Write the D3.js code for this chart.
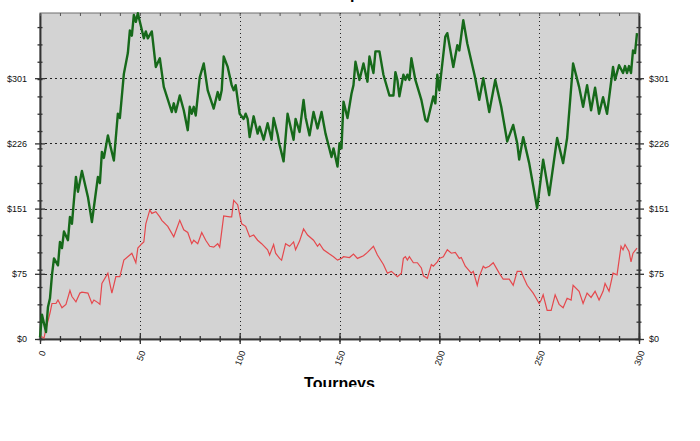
<!DOCTYPE html>
<html>
<head>
<meta charset="utf-8">
<script src="https://cdn.jsdelivr.net/npm/d3@7"></script>
<style>
  body { margin: 0; background: #fff; }
  text { font-family: "Liberation Sans", Arial, sans-serif; }
</style>
</head>
<body>
<div id="chart"></div>
<script>
// tourney -> cumulative $
const greenSeries = [[0,2],[1,28],[3,8],[4,37],[5,47],[6,74],[7,93],[9,85],[10,112],[11,105],[12,124],[14,114],[15,141],[16,133],[18,187],[19,170],[21,194],[24,164],[26,135],[29,187],[30,180],[31,216],[32,209],[34,235],[35,225],[37,206],[39,260],[40,255],[42,306],[44,330],[45,356],[46,350],[47,374],[48,366],[49,376],[52,347],[53,355],[54,347],[56,355],[58,314],[60,324],[62,291],[66,262],[67,272],[68,262],[70,281],[72,264],[74,241],[75,268],[76,260],[77,268],[78,258],[80,302],[82,318],[84,287],[87,266],[89,285],[90,276],[91,287],[92,326],[94,314],[96,293],[97,287],[98,293],[100,260],[102,254],[103,260],[104,254],[105,233],[107,257],[109,237],[110,245],[112,230],[114,249],[116,230],[117,255],[119,236],[120,224],[122,205],[124,260],[127,230],[128,254],[130,239],[132,276],[133,256],[135,235],[137,262],[139,243],[141,262],[143,237],[146,210],[147,220],[149,199],[150,226],[151,220],[152,274],[154,255],[156,283],[157,293],[158,320],[160,299],[162,318],[164,297],[165,326],[167,307],[168,332],[170,332],[172,305],[175,281],[177,281],[178,308],[179,299],[180,280],[182,305],[183,299],[184,305],[185,299],[186,324],[188,299],[191,276],[193,253],[194,251],[197,280],[198,272],[199,305],[200,287],[203,349],[204,353],[207,314],[209,339],[210,333],[212,368],[214,341],[218,301],[220,276],[222,301],[225,262],[228,299],[231,268],[234,228],[237,247],[239,226],[240,207],[242,233],[245,203],[249,151],[252,207],[255,166],[259,232],[262,203],[264,232],[267,318],[270,291],[272,268],[274,293],[276,264],[278,290],[280,260],[282,279],[284,260],[287,314],[288,299],[290,316],[292,307],[293,315],[294,307],[295,315],[296,307],[297,333],[298,330],[299,353]];

const redSeries = [[0,4],[2,1],[3,12],[5,30],[6,41],[8,41],[9,45],[11,36],[13,40],[15,56],[16,49],[18,43],[20,53],[21,54],[24,53],[26,41],[27,45],[29,42],[30,40],[31,64],[34,76],[35,64],[36,53],[38,72],[40,72],[42,91],[45,97],[46,99],[48,88],[49,105],[51,110],[52,112],[53,133],[55,149],[56,145],[58,147],[60,141],[61,137],[64,130],[67,118],[70,137],[72,126],[74,123],[76,110],[77,114],[79,110],[81,123],[83,114],[85,107],[87,106],[89,110],[90,106],[92,142],[95,141],[96,141],[97,160],[99,155],[101,133],[103,130],[105,118],[107,120],[109,114],[111,110],[114,103],[115,97],[117,109],[118,99],[120,93],[121,91],[123,110],[125,107],[127,112],[128,103],[130,113],[132,127],[134,120],[137,114],[139,107],[140,110],[142,103],[145,98],[147,95],[149,91],[151,93],[152,95],[155,94],[157,98],[159,93],[162,96],[164,100],[167,107],[169,97],[172,86],[174,76],[176,78],[177,76],[179,72],[181,76],[182,93],[183,95],[184,91],[185,95],[187,88],[189,88],[191,82],[192,73],[194,70],[196,86],[197,84],[199,89],[200,93],[202,95],[204,103],[206,99],[208,100],[210,93],[211,94],[213,84],[216,76],[217,78],[219,62],[220,72],[222,84],[223,82],[225,84],[227,88],[230,76],[232,69],[235,69],[237,62],[239,78],[241,78],[242,72],[244,62],[247,53],[248,49],[250,41],[251,45],[252,51],[254,33],[256,33],[258,51],[260,40],[262,36],[264,47],[266,45],[267,62],[270,55],[272,41],[274,53],[276,48],[278,55],[280,45],[282,55],[283,64],[285,55],[287,76],[289,74],[291,107],[292,103],[293,109],[295,101],[296,89],[297,99],[299,105]];

// axis ticks
const xTicks = [0, 50, 100, 150, 200, 250, 300];
const xMinorStep = 10;
const yTicks = [0, 75.25, 150.5, 225.75, 301];
const yTickLabels = ["$0", "$75", "$151", "$226", "$301"];
const yMax = 376.25;
const yMinorStep = 20;
const xTitle = "Tourneys";
const chartTitle = "Cumulative profit";

const width = 700,
    height = 441,
    margin = ({ top: 13, right: 61, bottom: 102, left: 40 });

const svg = d3.select("#chart")
    .append("svg")
    .attr("width", width)
    .attr("height", height);

// the original picture is cut off below the axis title
svg.append("clipPath").attr("id", "cut")
    .append("rect").attr("x", 0).attr("y", 0).attr("width", width).attr("height", 387);

const root = svg.append("g").attr("clip-path", "url(#cut)");

let x = d3.scaleLinear()
    .domain([0, 300])
    .range([margin.left, width - margin.right]);

let y = d3.scaleLinear()
    .domain([0, yMax])
    .range([height - margin.bottom, margin.top]);

const x0 = x.range()[0], x1 = x.range()[1];
const yB = y.range()[0], yT = y.range()[1];

// plot background
root.append("rect")
    .attr("x", x0).attr("y", yT)
    .attr("width", x1 - x0).attr("height", yB - yT)
    .attr("fill", "#d3d3d3")
    .attr("stroke", "#6e6e6e");

// dotted grid
root.append("g")
    .selectAll("line")
    .data(yTicks.slice(1))
    .join("line")
    .attr("x1", x0).attr("x2", x1)
    .attr("y1", d => Math.round(y(d)) + 0.5).attr("y2", d => Math.round(y(d)) + 0.5)
    .attr("stroke", "#222")
    .attr("stroke-dasharray", "2,3");

root.append("g")
    .selectAll("line")
    .data(xTicks.slice(1, -1))
    .join("line")
    .attr("x1", d => Math.round(x(d)) + 0.5).attr("x2", d => Math.round(x(d)) + 0.5)
    .attr("y1", yT).attr("y2", yB)
    .attr("stroke", "#222")
    .attr("stroke-dasharray", "1,3");

const xMinor = d3.range(0, 301, xMinorStep);
const yMinor = d3.range(0, yMax, yMinorStep);

function styleAxis(g) {
    g.select(".domain").attr("stroke", "#333").attr("stroke-width", 1.5);
    g.selectAll(".tick line").attr("stroke", "#333").attr("stroke-width", 1.3);
    g.selectAll(".tick text").attr("font-size", 9).attr("fill", "#111");
}

// left axis
root.append("g")
    .attr("transform", `translate(${x0},0)`)
    .call(d3.axisLeft(y).tickValues(yMinor).tickSize(3).tickFormat("").tickSizeOuter(0))
    .call(styleAxis)
    .call(g => g.selectAll(".tick line").attr("x2", -2.5).attr("x1", 2.5));

root.append("g")
    .attr("transform", `translate(${x0},0)`)
    .call(d3.axisLeft(y).tickValues(yTicks).tickSize(5).tickPadding(8).tickSizeOuter(0)
        .tickFormat((d, i) => yTickLabels[i]))
    .call(styleAxis)
    .call(g => g.selectAll(".tick line").attr("x1", 5));

// right axis
root.append("g")
    .attr("transform", `translate(${x1},0)`)
    .call(d3.axisRight(y).tickValues(yMinor).tickSize(3).tickFormat("").tickSizeOuter(0))
    .call(styleAxis)
    .call(g => g.selectAll(".tick line").attr("x1", -2.5).attr("x2", 2.5));

root.append("g")
    .attr("transform", `translate(${x1},0)`)
    .call(d3.axisRight(y).tickValues(yTicks).tickSize(5).tickPadding(5).tickSizeOuter(0)
        .tickFormat((d, i) => yTickLabels[i]))
    .call(styleAxis)
    .call(g => g.selectAll(".tick line").attr("x1", -4));

// top ticks pointing into the plot
root.append("g")
    .attr("transform", `translate(0,${yT})`)
    .call(d3.axisBottom(x).tickValues(xMinor).tickSize(3).tickFormat("").tickSizeOuter(0))
    .call(g => g.select(".domain").remove())
    .call(g => g.selectAll(".tick line").attr("stroke", "#555"));

// bottom axis
root.append("g")
    .attr("transform", `translate(0,${yB})`)
    .call(d3.axisBottom(x).tickValues(xMinor).tickSize(3).tickFormat("").tickSizeOuter(0))
    .call(styleAxis)
    .call(g => g.selectAll(".tick line").attr("y1", -3));

root.append("g")
    .attr("transform", `translate(0,${yB})`)
    .call(d3.axisBottom(x).tickValues(xTicks).tickSize(5).tickFormat("").tickSizeOuter(0))
    .call(styleAxis)
    .call(g => g.selectAll(".tick line").attr("y1", -6));

// rotated x labels
root.append("g")
    .selectAll("text")
    .data(xTicks)
    .join("text")
    .attr("transform", d => `translate(${x(d) + 3},${yB + 12}) rotate(-70)`)
    .attr("text-anchor", "end")
    .attr("dy", "0.35em")
    .attr("font-size", 9)
    .attr("fill", "#111")
    .text(d => d);

// axis title and chart title (both cut off in the original)
root.append("text")
    .attr("x", (x0 + x1) / 2)
    .attr("y", 389)
    .attr("text-anchor", "middle")
    .attr("font-size", 16)
    .attr("font-weight", "bold")
    .text(xTitle);

root.append("text")
    .attr("x", 325)
    .attr("y", -1)
    .attr("text-anchor", "middle")
    .attr("font-size", 16)
    .attr("font-weight", "bold")
    .text(chartTitle);

// lines
let line = d3.line()
    .x(d => x(d[0]))
    .y(d => y(d[1]));

const plot = root.append("g");

plot.append("path")
    .datum(redSeries)
    .attr("d", line)
    .attr("fill", "none")
    .attr("stroke", "#e5484d")
    .attr("stroke-width", 1.2);

plot.append("path")
    .datum(greenSeries)
    .attr("d", line)
    .attr("fill", "none")
    .attr("stroke", "#16691a")
    .attr("stroke-width", 2.4)
    .attr("stroke-linejoin", "round");
</script>
</body>
</html>
